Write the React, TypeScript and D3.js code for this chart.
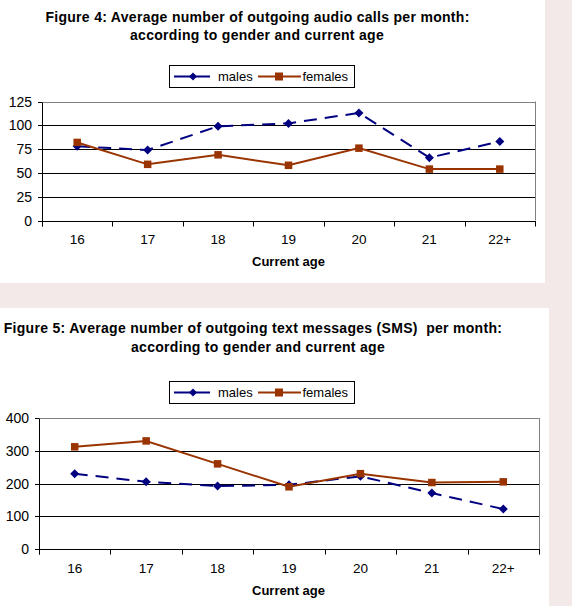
import React from "react";
import * as d3 from "d3";

const categories = ["16", "17", "18", "19", "20", "21", "22+"];
const callsMales = [78, 74, 99, 102, 113, 66, 83];
const callsFemales = [82, 59, 69, 58, 76, 54, 54];
const smsMales = [230, 205, 192, 196, 222, 171, 122];
const smsFemales = [312, 330, 260, 190, 230, 203, 205];
const callsTicks = [0, 25, 50, 75, 100, 125];
const smsTicks = [0, 100, 200, 300, 400];
const seriesNames = ["males", "females"];

const MALE = "#000080";
const FEMALE = "#993300";
const FONT = "'Liberation Sans', Arial, sans-serif";

type ChartProps = {
  title1: string;
  title2: string;
  t1y: number;
  t2y: number;
  t1x: number;
  t2x: number;
  legY: number;
  x0: number;
  x1: number;
  yTop: number;
  yBot: number;
  ticks: number[];
  males: number[];
  females: number[];
};

function Diamond({ x, y, r, color }: { x: number; y: number; r: number; color: string }) {
  return (
    <path
      d={`M${x},${y - r}L${x + r},${y}L${x},${y + r}L${x - r},${y}Z`}
      fill={color}
    />
  );
}

function Chart(p: ChartProps) {
  const x = d3.scaleBand<string>().domain(categories).range([p.x0, p.x1]);
  const yMax = p.ticks[p.ticks.length - 1];
  const y = d3.scaleLinear().domain([0, yMax]).range([p.yBot, p.yTop]);
  const cx = (c: string) => (x(c) as number) + x.bandwidth() / 2;
  const line = d3
    .line<number>()
    .x((_, i) => cx(categories[i]))
    .y((d) => y(d));
  const crisp = (v: number) => Math.round(v) + 0.5;
  const boundaries = categories.map((c) => x(c) as number).concat([p.x1]);
  const legX = 169.5;
  const legW = 185;
  const legH = 22;
  const ly = p.legY + legH / 2;
  return (
    <g>
      <text x={p.t1x} y={p.t1y} textAnchor="middle" fontFamily={FONT} fontWeight="bold" fontSize={14} letterSpacing={0.3} fill="#000">
        {p.title1}
      </text>
      <text x={p.t2x} y={p.t2y} textAnchor="middle" fontFamily={FONT} fontWeight="bold" fontSize={14} letterSpacing={0.3} fill="#000">
        {p.title2}
      </text>
      {/* legend */}
      <rect x={legX} y={p.legY + 0.5} width={legW} height={legH} fill="#fff" stroke="#000" strokeWidth={1} />
      <line x1={174} x2={210} y1={ly + 0.5} y2={ly + 0.5} stroke={MALE} strokeWidth={2} />
      <Diamond x={193} y={ly + 0.5} r={4} color={MALE} />
      <text x={218} y={ly + 5} fontFamily={FONT} fontSize={13} fill="#000">{seriesNames[0]}</text>
      <line x1={258} x2={301} y1={ly + 0.5} y2={ly + 0.5} stroke={FEMALE} strokeWidth={2} />
      <rect x={279 - 4} y={ly + 0.5 - 4} width={8} height={8} fill={FEMALE} />
      <text x={302.5} y={ly + 5} fontFamily={FONT} fontSize={13} fill="#000">{seriesNames[1]}</text>
      {/* gridlines */}
      {p.ticks.slice(1, -1).map((t) => (
        <line key={t} x1={p.x0} x2={p.x1} y1={crisp(y(t))} y2={crisp(y(t))} stroke="#000" strokeWidth={1} />
      ))}
      {/* border top/right */}
      <line x1={p.x0} x2={p.x1 + 0.5} y1={crisp(p.yTop)} y2={crisp(p.yTop)} stroke="#808080" strokeWidth={1} />
      <line x1={crisp(p.x1)} x2={crisp(p.x1)} y1={p.yTop} y2={p.yBot} stroke="#808080" strokeWidth={1} />
      {/* axes */}
      <line x1={crisp(p.x0)} x2={crisp(p.x0)} y1={crisp(p.yTop)} y2={crisp(p.yBot) + 5} stroke="#000" strokeWidth={1} />
      <line x1={p.x0} x2={p.x1 + 1} y1={crisp(p.yBot)} y2={crisp(p.yBot)} stroke="#000" strokeWidth={1} />
      {p.ticks.map((t) => (
        <g key={t}>
          <line x1={p.x0 - 4} x2={p.x0} y1={crisp(y(t))} y2={crisp(y(t))} stroke="#000" strokeWidth={1} />
          <text x={p.x0 - 10} y={y(t)} dy="0.36em" textAnchor="end" fontFamily={FONT} fontSize={14} fill="#000">
            {t}
          </text>
        </g>
      ))}
      {boundaries.map((b, i) => (
        <line key={i} x1={crisp(b)} x2={crisp(b)} y1={crisp(p.yBot)} y2={crisp(p.yBot) + 5} stroke="#000" strokeWidth={1} />
      ))}
      {categories.map((c) => (
        <text key={c} x={cx(c)} y={p.yBot + 23.5} textAnchor="middle" fontFamily={FONT} fontSize={13.5} fill="#000">
          {c}
        </text>
      ))}
      <text x={288.5} y={p.yBot + 45.5} textAnchor="middle" fontFamily={FONT} fontWeight="bold" fontSize={13} fill="#000">
        Current age
      </text>
      {/* series */}
      <path d={line(p.males) || ""} fill="none" stroke={MALE} strokeWidth={2} strokeDasharray="13,8" />
      {p.males.map((v, i) => (
        <Diamond key={i} x={cx(categories[i])} y={y(v)} r={4.5} color={MALE} />
      ))}
      <path d={line(p.females) || ""} fill="none" stroke={FEMALE} strokeWidth={2} />
      {p.females.map((v, i) => (
        <rect key={i} x={cx(categories[i]) - 3.75} y={y(v) - 3.75} width={7.5} height={7.5} fill={FEMALE} />
      ))}
    </g>
  );
}

export default function App() {
  return (
    <svg
      width={572}
      height={606}
      style={{ position: "absolute", left: 0, top: 0, display: "block" }}
    >
      <rect x={0} y={0} width={572} height={606} fill="#F2E9E8" />
      <rect x={0} y={0} width={545} height={283} fill="#fff" />
      <rect x={0} y={308} width={549} height={298} fill="#fff" />
      <Chart
        title1="Figure 4: Average number of outgoing audio calls per month:"
        title2="according to gender and current age"
        t1x={257.5}
        t2x={257}
        t1y={21.5}
        t2y={40}
        legY={65}
        x0={42}
        x1={535}
        yTop={101.5}
        yBot={220.5}
        ticks={callsTicks}
        males={callsMales}
        females={callsFemales}
      />
      <Chart
        title1={"Figure 5: Average number of outgoing text messages (SMS)\u00a0 per month:"}
        title2="according to gender and current age"
        t1x={253}
        t2x={258}
        t1y={333}
        t2y={351.5}
        legY={381}
        x0={39}
        x1={539}
        yTop={418}
        yBot={549}
        ticks={smsTicks}
        males={smsMales}
        females={smsFemales}
      />
    </svg>
  );
}
